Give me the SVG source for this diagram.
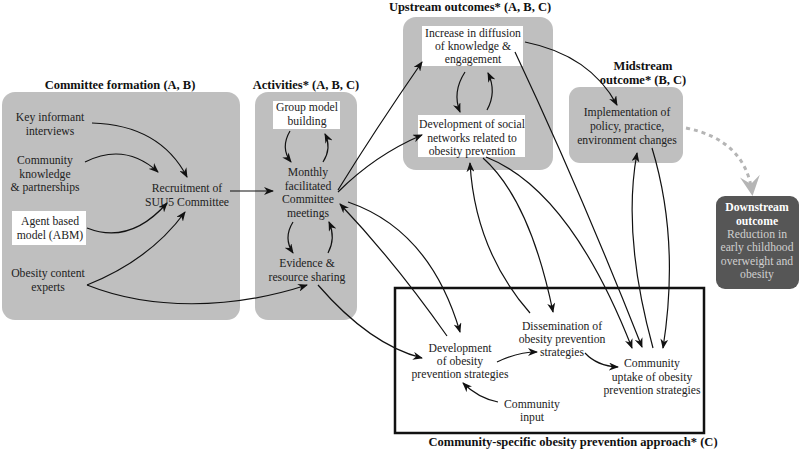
<svg xmlns="http://www.w3.org/2000/svg" width="800" height="450" viewBox="0 0 800 450">
<style>
text{font-family:"Liberation Serif","Times New Roman",serif;font-size:11.7px;fill:#222;text-anchor:middle}
.t{font-weight:bold;font-size:12.5px;fill:#111}
.panel{fill:#bfbfbf}
.wbox{fill:#fff}
.dw{fill:#fff;font-weight:bold}
.dl{fill:#cfcfcf}
.c{fill:none;stroke:#111;stroke-width:1.2;marker-end:url(#ah)}
.dash{fill:none;stroke:#b5b5b5;stroke-width:3;stroke-dasharray:4 4;marker-end:url(#gh)}
</style>
<defs>
<marker id="ah" viewBox="0 0 10 8" refX="9" refY="4" markerWidth="10" markerHeight="8" markerUnits="userSpaceOnUse" orient="auto">
<path d="M0,0 L10,4 L0,8 L3,4 z" fill="#111"/>
</marker>
<marker id="gh" viewBox="0 0 10 10" refX="8" refY="5" markerWidth="20" markerHeight="20" markerUnits="userSpaceOnUse" orient="auto">
<path d="M0,0 L10,5 L0,10 L4,5 z" fill="#b5b5b5"/>
</marker>
</defs>
<rect width="800" height="450" fill="#fff"/>

<g id="committee-formation">
<text class="t" x="120" y="89">Committee formation (A, B)</text>
<rect class="panel" x="2" y="92" width="238" height="228" rx="13"/>
</g>
<g id="activities">
<text class="t" x="306" y="89">Activities* (A, B, C)</text>
<rect class="panel" x="255" y="92" width="102" height="228" rx="13"/>
</g>
<g id="upstream">
<text class="t" x="470" y="11">Upstream outcomes* (A, B, C)</text>
<rect class="panel" x="403" y="17" width="150" height="153" rx="13"/>
</g>
<g id="midstream">
<text class="t" x="643" y="70">Midstream</text>
<text class="t" x="643" y="84">outcome* (B, C)</text>
<rect class="panel" x="569" y="87" width="114" height="76" rx="11"/>
<text x="627" y="116">Implementation of</text>
<text x="627" y="130">policy, practice,</text>
<text x="627" y="144">environment changes</text>
</g>
<g id="downstream">
<rect x="716" y="196" width="83" height="93" rx="9" fill="#565656"/>
<text class="dw" x="757" y="211">Downstream</text>
<text class="dw" x="757" y="225">outcome</text>
<text class="dl" x="757" y="238">Reduction in</text>
<text class="dl" x="757" y="251">early childhood</text>
<text class="dl" x="757" y="265">overweight and</text>
<text class="dl" x="757" y="278">obesity</text>
</g>
<g id="community-approach">
<rect x="395" y="288" width="309" height="145" fill="none" stroke="#111" stroke-width="2.5"/>
<text class="t" x="573" y="446">Community-specific obesity prevention approach* (C)</text>
</g>

<g id="key-informant"><text x="50" y="121">Key informant</text><text x="50" y="135">interviews</text></g>
<g id="community-knowledge"><text x="45" y="164">Community</text><text x="45" y="178">knowledge</text><text x="45" y="191">&amp; partnerships</text></g>
<g id="abm"><rect class="wbox" x="12" y="211" width="74" height="34"/><text x="50" y="225">Agent based</text><text x="50" y="239">model (ABM)</text></g>
<g id="obesity-experts"><text x="48" y="277">Obesity content</text><text x="48" y="291">experts</text></g>
<g id="recruitment"><text x="187" y="192">Recruitment of</text><text x="187" y="206">SUU5 Committee</text></g>

<g id="group-model"><rect class="wbox" x="273" y="101" width="67" height="28"/><text x="307" y="111">Group model</text><text x="307" y="125">building</text></g>
<g id="monthly"><text x="308" y="176">Monthly</text><text x="308" y="190">facilitated</text><text x="308" y="203">Committee</text><text x="308" y="217">meetings</text></g>
<g id="evidence"><text x="307" y="267">Evidence &amp;</text><text x="307" y="281">resource sharing</text></g>

<g id="diffusion"><rect class="wbox" x="422" y="26" width="101" height="40"/><text x="473" y="37">Increase in diffusion</text><text x="473" y="50">of knowledge &amp;</text><text x="473" y="63">engagement</text></g>
<g id="social-networks"><rect class="wbox" x="418" y="115" width="107" height="42"/><text x="472" y="128">Development of social</text><text x="472" y="142">networks related to</text><text x="472" y="155">obesity prevention</text></g>

<g id="development"><text x="460" y="352">Development</text><text x="460" y="365">of obesity</text><text x="460" y="378">prevention strategies</text></g>
<g id="dissemination"><text x="562" y="330">Dissemination of</text><text x="562" y="343">obesity prevention</text><text x="562" y="356">strategies</text></g>
<g id="uptake"><text x="652" y="367">Community</text><text x="652" y="381">uptake of obesity</text><text x="652" y="394">prevention strategies</text></g>
<g id="community-input"><text x="532" y="408">Community</text><text x="532" y="421">input</text></g>

<g id="connectors">
<path class="c" d="M92,123 Q160,125 187,177"/>
<path class="c" d="M85,162 Q125,142 158,172"/>
<path class="c" d="M87,228 Q130,245 167,203"/>
<path class="c" d="M87,285 Q150,260 185,212"/>
<path class="c" d="M87,285 C150,310 230,310 307,285"/>
<path class="c" d="M230,191 L273,191"/>
<path class="c" d="M290,131 Q280,148 291,162"/>
<path class="c" d="M323,162 Q332,148 325,134"/>
<path class="c" d="M293,222 Q283,238 293,253"/>
<path class="c" d="M328,253 Q336,238 329,222"/>
<path class="c" d="M338,190 Q375,130 422,62"/>
<path class="c" d="M338,192 Q375,155 422,135"/>
<path class="c" d="M447,336 Q395,262 340,204"/>
<path class="c" d="M348,202 Q430,230 460,332"/>
<path class="c" d="M318,285 Q370,345 422,358"/>
<path class="c" d="M465,72 Q452,92 460,112"/>
<path class="c" d="M487,110 Q497,92 488,73"/>
<path class="c" d="M497,362 Q518,352 537,352"/>
<path class="c" d="M585,353 Q597,366 618,367"/>
<path class="c" d="M498,402 Q478,398 463,383"/>
<path class="c" d="M530,313 Q475,250 470,163"/>
<path class="c" d="M483,158 Q530,200 553,312"/>
<path class="c" d="M486,157 Q570,190 632,348"/>
<path class="c" d="M515,52 Q580,190 642,347"/>
<path class="c" d="M525,42 Q590,55 617,105"/>
<path class="c" d="M653,348 Q622,235 637,153"/>
<path class="c" d="M652,148 Q680,240 663,348"/>
<path class="dash" d="M686,128 Q745,140 752,192"/>
</g>
</svg>
